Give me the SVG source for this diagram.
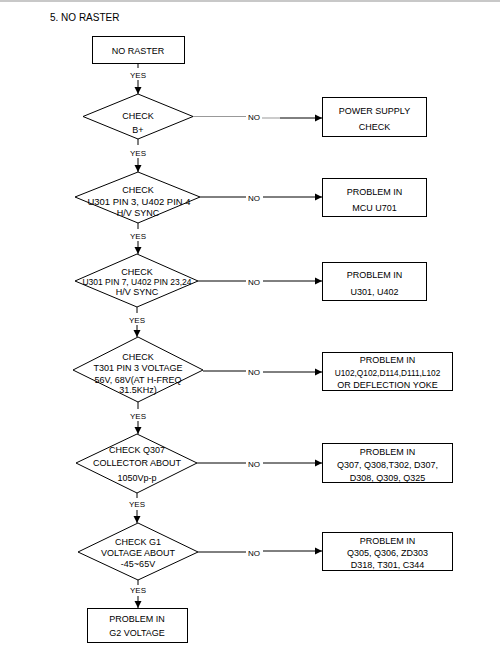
<svg xmlns="http://www.w3.org/2000/svg" width="500" height="653" viewBox="0 0 500 653">
<defs>
<style>
.s{fill:#fff;stroke:#000;stroke-width:1}
.t{font-family:"Liberation Sans",Arial,sans-serif;font-size:9px;fill:#000;text-anchor:middle}
.l{font-size:8px}
.c{stroke:#000;stroke-width:1;fill:none}
.g{stroke:#999;stroke-width:1;fill:none}
</style>
<marker id="a" markerWidth="8" markerHeight="8" refX="7" refY="4" orient="auto" markerUnits="userSpaceOnUse">
<path d="M0,0.5 L7,4 L0,7.5 Z" fill="#000"/>
</marker>
</defs>
<rect x="0" y="0" width="500" height="2" fill="#c8c8c8"/>
<text x="50" y="21" class="t" style="text-anchor:start;font-size:10px">5. NO RASTER</text>

<g id="n0"><rect x="92.5" y="36.5" width="92" height="27" class="s"/><text x="138" y="53.5" class="t">NO RASTER</text></g>
<g id="d1"><polygon points="138,94 193,116.5 138,139 83,116.5" class="s"/><text x="138" y="118.5" class="t">CHECK</text><text x="138" y="132.5" class="t">B+</text></g>
<g id="d2"><polygon points="138,172 200,197 138,223 75,197" class="s"/><text x="138" y="192.5" class="t">CHECK</text><text x="139" y="205" class="t" textLength="103" lengthAdjust="spacingAndGlyphs">U301 PIN 3, U402 PIN 4</text><text x="138" y="215.5" class="t">H/V SYNC</text></g>
<g id="d3"><polygon points="137,254 198,281 137,307 75,281" class="s"/><text x="137" y="274.5" class="t">CHECK</text><text x="137" y="284.5" class="t" style="font-size:8.5px">U301 PIN 7, U402 PIN 23,24</text><text x="137" y="294.5" class="t">H/V SYNC</text></g>
<g id="d4"><polygon points="138,337 203,370 138,402 73,370" class="s"/><text x="138" y="359.5" class="t">CHECK</text><text x="138" y="370.5" class="t">T301 PIN 3 VOLTAGE</text><text x="138" y="382.5" class="t">56V, 68V(AT H-FREQ</text><text x="138" y="392.5" class="t">31.5KHz)</text></g>
<g id="d5"><polygon points="137,434 197,463 137,493 76,463" class="s"/><text x="137" y="452.5" class="t">CHECK Q307</text><text x="137" y="465.5" class="t">COLLECTOR ABOUT</text><text x="137" y="480.5" class="t">1050Vp-p</text></g>
<g id="d6"><polygon points="138,523 198,552 138,580 78,552" class="s"/><text x="138" y="544.5" class="t">CHECK G1</text><text x="138" y="555.5" class="t">VOLTAGE ABOUT</text><text x="138" y="566.5" class="t">-45~65V</text></g>
<g id="n7"><rect x="87.5" y="608.5" width="100" height="34" class="s"/><text x="137" y="621.5" class="t">PROBLEM IN</text><text x="137" y="635.5" class="t">G2 VOLTAGE</text></g>

<g id="r1"><rect x="322.5" y="97.5" width="104" height="39" class="s"/><text x="374.5" y="113.5" class="t">POWER SUPPLY</text><text x="374.5" y="129.5" class="t">CHECK</text></g>
<g id="r2"><rect x="322.5" y="178.5" width="104" height="38" class="s"/><text x="374.5" y="194.5" class="t">PROBLEM IN</text><text x="374.5" y="210.5" class="t">MCU U701</text></g>
<g id="r3"><rect x="322.5" y="262.5" width="104" height="38" class="s"/><text x="374.5" y="277.5" class="t">PROBLEM IN</text><text x="374.5" y="294.5" class="t">U301, U402</text></g>
<g id="r4"><rect x="322.5" y="352.5" width="130" height="38" class="s"/><text x="387.5" y="362.5" class="t">PROBLEM IN</text><text x="387.5" y="375.5" class="t" style="font-size:8.3px">U102,Q102,D114,D111,L102</text><text x="387.5" y="387.5" class="t">OR DEFLECTION YOKE</text></g>
<g id="r5"><rect x="322.5" y="443.5" width="130" height="39" class="s"/><text x="387.5" y="454.5" class="t">PROBLEM IN</text><text x="387.5" y="467.5" class="t">Q307, Q308,T302, D307,</text><text x="387.5" y="480.5" class="t">D308, Q309, Q325</text></g>
<g id="r6"><rect x="322.5" y="532.5" width="130" height="38" class="s"/><text x="387.5" y="543.5" class="t">PROBLEM IN</text><text x="387.5" y="555.5" class="t">Q305, Q306, ZD303</text><text x="387.5" y="567.5" class="t">D318, T301, C344</text></g>

<g id="connectors">
<line x1="138" y1="63" x2="138" y2="68" class="c"/><text x="138" y="77.5" class="t l">YES</text><line x1="138" y1="80" x2="138" y2="94" class="c" marker-end="url(#a)"/>
<line x1="138" y1="139" x2="138" y2="145" class="c"/><text x="138" y="155.5" class="t l">YES</text><line x1="138" y1="158" x2="138" y2="172" class="c" marker-end="url(#a)"/>
<line x1="138" y1="223" x2="138" y2="229" class="c"/><text x="138" y="238.5" class="t l">YES</text><line x1="138" y1="241" x2="138" y2="254" class="c" marker-end="url(#a)"/>
<line x1="137" y1="307" x2="137" y2="313" class="c"/><text x="137" y="322.5" class="t l">YES</text><line x1="137" y1="325" x2="137" y2="337" class="c" marker-end="url(#a)"/>
<line x1="138" y1="402" x2="138" y2="409" class="c"/><text x="138" y="418.5" class="t l">YES</text><line x1="138" y1="421" x2="138" y2="434" class="c" marker-end="url(#a)"/>
<line x1="137" y1="493" x2="137" y2="498" class="c"/><text x="137" y="506.5" class="t l">YES</text><line x1="137" y1="510" x2="137" y2="523" class="c" marker-end="url(#a)"/>
<line x1="138" y1="580" x2="138" y2="585" class="c"/><text x="138" y="592.5" class="t l">YES</text><line x1="138" y1="596" x2="138" y2="608" class="c" marker-end="url(#a)"/>

<line x1="193" y1="116.5" x2="246" y2="116.5" class="g"/><text x="254" y="120" class="t l">NO</text><line x1="262" y1="118" x2="280" y2="118" class="g"/><line x1="280" y1="118" x2="322" y2="118" class="c" marker-end="url(#a)"/>
<line x1="200" y1="197" x2="246" y2="197" class="c"/><text x="254" y="200.5" class="t l">NO</text><line x1="263" y1="197" x2="322" y2="197" class="c" marker-end="url(#a)"/>
<line x1="198" y1="281" x2="246" y2="281" class="c"/><text x="254" y="284.5" class="t l">NO</text><line x1="263" y1="281" x2="322" y2="281" class="c" marker-end="url(#a)"/>
<line x1="203" y1="371" x2="246" y2="371" class="c"/><text x="254" y="374.5" class="t l">NO</text><line x1="263" y1="372" x2="322" y2="372" class="c" marker-end="url(#a)"/>
<line x1="197" y1="463" x2="246" y2="463" class="c"/><text x="254" y="466.5" class="t l">NO</text><line x1="263" y1="463" x2="322" y2="463" class="c" marker-end="url(#a)"/>
<line x1="198" y1="552" x2="246" y2="552" class="c"/><text x="254" y="555.5" class="t l">NO</text><line x1="263" y1="551" x2="322" y2="551" class="c" marker-end="url(#a)"/>
</g>
</svg>
